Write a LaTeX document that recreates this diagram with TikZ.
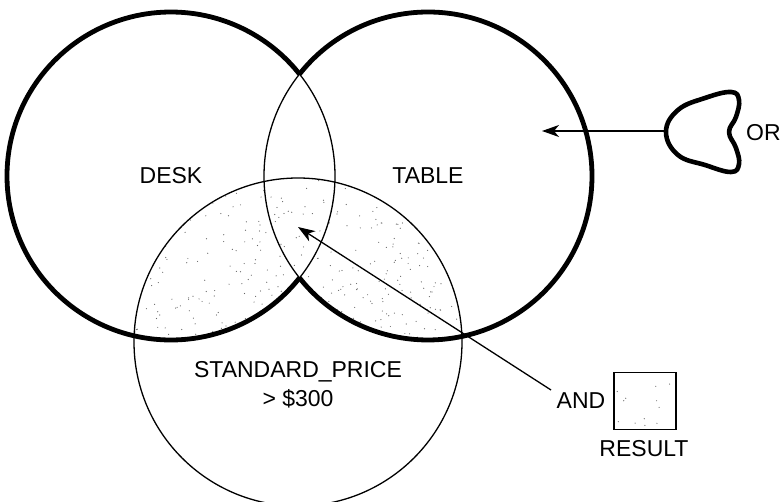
\documentclass[tikz,border=0pt]{standalone}
\usepackage{fontspec}
\setmainfont{Liberation Sans}
\usetikzlibrary{arrows.meta}
\begin{document}
\begin{tikzpicture}[x=1pt,y=-1pt,
  thinline/.style={line width=1.3pt},
  thickline/.style={line width=4.8pt},
  lbl/.style={font=\fontsize{23}{27}\selectfont, inner sep=0pt, align=center},
  arr/.style={line width=1.3pt, -{Stealth[length=17pt,width=12pt,inset=5pt]}},
  setnode/.style={circle, minimum size=328pt, inner sep=0pt},
  stipple/.style={fill=black!60},
]
\useasboundingbox (0,0) rectangle (784,502);
% set nodes (circles) with their labels
\node[setnode,lbl] (desk)  at (171,176) {DESK};
\node[setnode,lbl] (table) at (428,176) {TABLE};
\coordinate (sp) at (298,342);
% stippled result region: STANDARD_PRICE and (DESK or TABLE)
\begin{scope}
  \clip (sp) circle[radius=164];
  \clip (desk.center) circle[radius=164] (table.center) circle[radius=164];
  \pgfmathsetseed{4711}
  \foreach \i in {1,...,380}{
    \pgfmathsetmacro{\px}{134+328*rnd}
    \pgfmathsetmacro{\py}{176+170*rnd}
    \fill[stipple] (\px,\py) circle[radius=0.6];
  }
\end{scope}
% inner (thin) parts of DESK and TABLE
\draw[thinline] (desk.center) circle[radius=164];
\draw[thinline] (table.center) circle[radius=164];
% outer (thick) boundary of DESK or TABLE
\draw[thickline] (desk.center) ++(38.4:164) arc[start angle=38.4, end angle=321.6, radius=164];
\draw[thickline] (table.center) ++(-141.6:164) arc[start angle=-141.6, end angle=141.6, radius=164];
% STANDARD_PRICE circle
\draw[thinline] (sp) circle[radius=164];
\node[lbl] (splabel) at (298,385) {STANDARD\_PRICE\\[2pt]{>}~\$300};
% OR symbol
\draw[line width=4.6pt, line join=round] plot[smooth cycle, tension=0.7] coordinates {
  (666,132) (678,110) (705,98) (731,92) (739,100) (736,117) (729,132)
  (736,148) (739,164) (731,172) (705,165) (678,155)};
\coordinate (orsym) at (665,131);
\node[lbl, anchor=west] (orlbl) at (746,133) {OR};
\coordinate (ortip) at (542,131);
\draw[arr] (orsym) -- (ortip);
% AND / RESULT
\node[lbl] (andlbl) at (581,401) {AND};
\node[draw, line width=1.5pt, minimum width=62pt, minimum height=57pt, inner sep=0pt] (result) at (645,401) {};
\node[lbl] (reslbl) at (644,449) {RESULT};
\coordinate (andstart) at (551,390);
\coordinate (andtip) at (298,227);
\draw[arr] (andstart) -- (andtip);
% faint stipple in result box
\begin{scope}
  \pgfmathsetseed{99}
  \foreach \i in {1,...,12}{
    \pgfmathsetmacro{\px}{616+58*rnd}
    \pgfmathsetmacro{\py}{375+52*rnd}
    \fill[stipple] (\px,\py) circle[radius=0.6];
  }
\end{scope}
\end{tikzpicture}
\end{document}
